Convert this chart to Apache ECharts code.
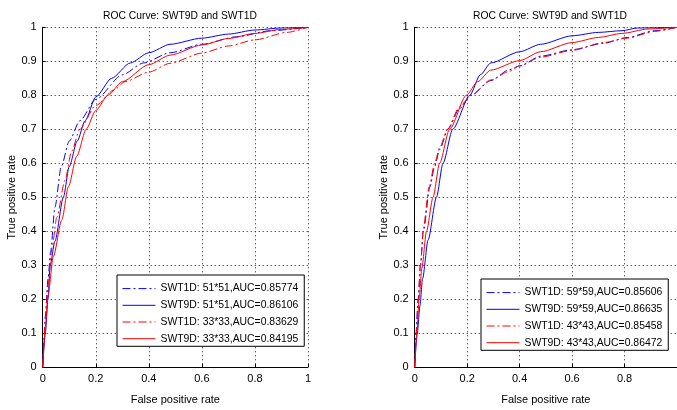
<!DOCTYPE html>
<html>
<head>
<meta charset="utf-8">
<script src="https://cdn.jsdelivr.net/npm/echarts@6/dist/echarts.min.js"></script>
<style>html,body{margin:0;padding:0;background:#fff;}#c{width:677px;height:410px;}</style>
</head>
<body>
<div id="c"></div>
<script>
// ---- Data ----
const titleText = 'ROC Curve: SWT9D and SWT1D';
const xTicks = [0, 0.2, 0.4, 0.6, 0.8, 1];
const yTicks = [0, 0.1, 0.2, 0.3, 0.4, 0.5, 0.6, 0.7, 0.8, 0.9, 1];

// Left panel
const leftNames = ['SWT1D: 51*51,AUC=0.85774', 'SWT9D: 51*51,AUC=0.86106', 'SWT1D: 33*33,AUC=0.83629', 'SWT9D: 33*33,AUC=0.84195'];
const L1_fpr = [0, 0.005, 0.01, 0.02, 0.03, 0.046, 0.07, 0.1, 0.14, 0.2, 0.3, 0.38, 0.48, 0.6, 0.73, 0.86, 1];
const L1_tpr = [0, 0.08, 0.15, 0.26, 0.34, 0.47, 0.59, 0.665, 0.725, 0.788, 0.86, 0.895, 0.925, 0.95, 0.972, 0.99, 1];
const L2_fpr = [0, 0.01, 0.02, 0.028, 0.046, 0.078, 0.1, 0.13, 0.16, 0.2, 0.26, 0.33, 0.4, 0.48, 0.6, 0.7, 0.8, 0.9, 1];
const L2_tpr = [0, 0.1, 0.2, 0.3, 0.37, 0.5, 0.59, 0.665, 0.725, 0.795, 0.85, 0.895, 0.925, 0.95, 0.968, 0.98, 0.992, 0.998, 1];
const L3_fpr = [0, 0.01, 0.02, 0.035, 0.053, 0.084, 0.109, 0.14, 0.2, 0.27, 0.31, 0.4, 0.48, 0.6, 0.7, 0.8, 0.92, 1];
const L3_tpr = [0, 0.14, 0.24, 0.35, 0.44, 0.55, 0.635, 0.7, 0.77, 0.816, 0.84, 0.868, 0.894, 0.924, 0.945, 0.963, 0.985, 1];
const L4_fpr = [0, 0.01, 0.02, 0.04, 0.072, 0.097, 0.128, 0.164, 0.2, 0.246, 0.3, 0.4, 0.48, 0.6, 0.7, 0.8, 0.9, 1];
const L4_tpr = [0, 0.12, 0.21, 0.325, 0.433, 0.531, 0.62, 0.7, 0.755, 0.8, 0.84, 0.89, 0.918, 0.948, 0.967, 0.982, 0.994, 1];

// Right panel
const rightNames = ['SWT1D: 59*59,AUC=0.85606', 'SWT9D: 59*59,AUC=0.86635', 'SWT1D: 43*43,AUC=0.85458', 'SWT9D: 43*43,AUC=0.86472'];
const R1_fpr = [0, 0.005, 0.013, 0.022, 0.033, 0.058, 0.076, 0.095, 0.127, 0.17, 0.215, 0.29, 0.36, 0.4, 0.48, 0.6, 0.72, 0.81, 0.915, 1];
const R1_tpr = [0, 0.1, 0.2, 0.3, 0.4, 0.53, 0.59, 0.64, 0.7, 0.76, 0.8, 0.843, 0.875, 0.886, 0.915, 0.934, 0.953, 0.97, 0.99, 1];
const R2_fpr = [0, 0.01, 0.02, 0.03, 0.051, 0.083, 0.108, 0.145, 0.21, 0.25, 0.29, 0.4, 0.48, 0.6, 0.7, 0.79, 0.85, 1];
const R2_tpr = [0, 0.1, 0.18, 0.26, 0.374, 0.5, 0.6, 0.7, 0.8, 0.86, 0.895, 0.928, 0.95, 0.975, 0.985, 0.99, 0.998, 1];
const R3_fpr = [0, 0.006, 0.014, 0.022, 0.033, 0.055, 0.076, 0.095, 0.125, 0.17, 0.215, 0.29, 0.36, 0.4, 0.48, 0.6, 0.72, 0.81, 0.915, 1];
const R3_tpr = [0, 0.1, 0.2, 0.3, 0.41, 0.53, 0.6, 0.645, 0.7, 0.765, 0.8, 0.845, 0.87, 0.887, 0.912, 0.932, 0.955, 0.968, 0.988, 1];
const R4_fpr = [0, 0.008, 0.017, 0.027, 0.045, 0.07, 0.095, 0.133, 0.197, 0.24, 0.29, 0.4, 0.48, 0.6, 0.7, 0.79, 0.89, 1];
const R4_tpr = [0, 0.1, 0.2, 0.29, 0.4, 0.5, 0.6, 0.7, 0.8, 0.84, 0.874, 0.902, 0.928, 0.955, 0.97, 0.982, 0.995, 1];

// ---- Chart ----
const FONT = 'Liberation Sans, Arial, sans-serif';
const zip = (a, b) => a.map((v, i) => [v, b[i]]);
const dashDot = [8, 3, 2, 3];
const styles = [
  {color: '#0000ff', type: dashDot},
  {color: '#0000ff', type: 'solid'},
  {color: '#ff0000', type: dashDot},
  {color: '#ff0000', type: 'solid'}
];
function mkSeries(names, data, idx) {
  return names.map((n, i) => ({
    name: n, type: 'line', xAxisIndex: idx, yAxisIndex: idx,
    data: data[i], showSymbol: false, symbol: 'none', smooth: 0.25, smoothMonotone: 'x',
    lineStyle: {width: 1, color: styles[i].color, type: styles[i].type},
    itemStyle: {color: styles[i].color},
    emphasis: {disabled: true}, animation: false
  }));
}
const gridLine = {show: true, lineStyle: {color: '#222', type: [1, 3], width: 1}};
function xAx(idx, hideMax) {
  return {
    type: 'value', gridIndex: idx, min: 0, max: 1, interval: 0.2,
    name: 'False positive rate', nameLocation: 'middle', nameGap: 27,
    nameTextStyle: {fontFamily: FONT, fontSize: 11, color: '#000'},
    axisLine: {show: true, onZero: false, lineStyle: {color: '#000', width: 1}},
    axisTick: {show: true, inside: true, length: 3, lineStyle: {color: '#000'}},
    axisLabel: {fontFamily: FONT, fontSize: 11, color: '#000', margin: 6, showMaxLabel: !hideMax,
      formatter: v => String(+v.toFixed(1))},
    splitLine: gridLine
  };
}
function yAx(idx) {
  return {
    type: 'value', gridIndex: idx, min: 0, max: 1, interval: 0.1,
    name: 'True positive rate', nameLocation: 'middle', nameGap: 23, nameRotate: 90,
    nameTextStyle: {fontFamily: FONT, fontSize: 11, color: '#000'},
    axisLine: {show: true, onZero: false, lineStyle: {color: '#000', width: 1}},
    axisTick: {show: true, inside: true, length: 3, lineStyle: {color: '#000'}},
    axisLabel: {fontFamily: FONT, fontSize: 11, color: '#000', margin: 6,
      formatter: v => String(+v.toFixed(1))},
    splitLine: gridLine
  };
}
function legend(names, left, top) {
  return {
    data: names, orient: 'vertical', left: left, top: top,
    itemWidth: 33, itemHeight: 14, itemGap: 5.5,
    padding: [8, 6, 2, 5],
    itemStyle: {opacity: 0},
    lineStyle: {width: 1},
    backgroundColor: '#fff', borderColor: '#000', borderWidth: 1, borderRadius: 0,
    textStyle: {fontFamily: FONT, fontSize: 10.4, color: '#000'},
    selectedMode: false
  };
}

const chart = echarts.init(document.getElementById('c'), null, {renderer: 'canvas'});
chart.setOption({
  backgroundColor: '#fff',
  animation: false,
  title: [
    {text: titleText, left: 175, top: 6, textAlign: 'center',
     textStyle: {fontFamily: FONT, fontSize: 10.3, fontWeight: 'normal', color: '#000'}},
    {text: titleText, left: 545, top: 6, textAlign: 'center',
     textStyle: {fontFamily: FONT, fontSize: 10.3, fontWeight: 'normal', color: '#000'}}
  ],
  grid: [
    {left: 42.7, top: 27.3, width: 265.3, height: 340, containLabel: false},
    {left: 414.7, top: 27.3, width: 265, height: 340, containLabel: false}
  ],
  xAxis: [xAx(0, false), xAx(1, true)],
  yAxis: [yAx(0), yAx(1)],
  legend: [legend(leftNames, 117, 275), legend(rightNames, 481, 279)],
  series: [
    ...mkSeries(leftNames, [zip(L1_fpr, L1_tpr), zip(L2_fpr, L2_tpr), zip(L3_fpr, L3_tpr), zip(L4_fpr, L4_tpr)], 0),
    ...mkSeries(rightNames, [zip(R1_fpr, R1_tpr), zip(R2_fpr, R2_tpr), zip(R3_fpr, R3_tpr), zip(R4_fpr, R4_tpr)], 1)
  ]
});
</script>
</body>
</html>
